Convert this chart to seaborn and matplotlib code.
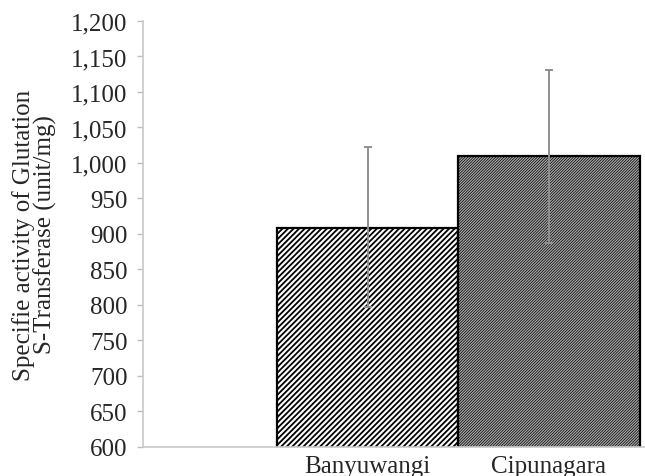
import matplotlib
matplotlib.use("Agg")
import matplotlib.pyplot as plt
import seaborn as sns
import pandas as pd
import numpy as np

sites = ["Banyuwangi", "Cipunagara"]
activity = [908, 1010]
err_low = [797, 888]
err_high = [1022, 1131]
yticks = list(range(600, 1201, 50))

sns.set_theme(style="white")
plt.rcParams['font.family'] = ['Liberation Serif', 'DejaVu Serif']
plt.rcParams['hatch.linewidth'] = 1.3

df = pd.DataFrame({"site": sites, "activity": activity})

fig = plt.figure(figsize=(6.45, 4.77), dpi=100)
ax = fig.add_axes([0.2217, 0.0608, 0.7783, 0.8931])

sns.barplot(data=df, x="site", y="activity", ax=ax, width=1.0,
            errorbar=None, edgecolor="black", linewidth=1.6)

faces = ["white", "#a6a6a6"]
hatches = ["//////", "////////////"]
hlw = [1.3, 0.5]
for p, fc, h, lw in zip(ax.patches, faces, hatches, hlw):
    p.set_facecolor(fc)
    p.set_hatch(h)
    p.set_edgecolor("black")
    if hasattr(p, "set_hatch_linewidth"):
        p.set_hatch_linewidth(lw)
    else:
        p._hatch_linewidth = lw

x = np.arange(len(sites))
vals = np.array(activity)
yerr = np.vstack([vals - np.array(err_low), np.array(err_high) - vals])
ax.errorbar(x, vals, yerr=yerr, fmt="none", ecolor="#8f8f8f",
            elinewidth=1.4, capsize=3, capthick=1.4, zorder=5)

ax.set_ylim(600, 1200)
ax.set_xlim(-1.24, 1.53)
ax.set_yticks(yticks)
ax.set_yticklabels([f"{v:,}" for v in yticks], fontsize=18)
ax.tick_params(axis="y", left=True, length=4, width=1, color="#c0c0c0", pad=7)
ax.tick_params(axis="x", bottom=False, pad=0, labelsize=18)
ax.set_xlabel("")
ax.set_ylabel("Specifie activity of Glutation\nS-Transferase (unit/mg)",
              fontsize=18, linespacing=0.95, labelpad=10)
for s in ["top", "right"]:
    ax.spines[s].set_visible(False)
for s in ["left", "bottom"]:
    ax.spines[s].set_color("#c8c8c8")
    ax.spines[s].set_linewidth(1.2)

fig.savefig("out.png", dpi=100)
